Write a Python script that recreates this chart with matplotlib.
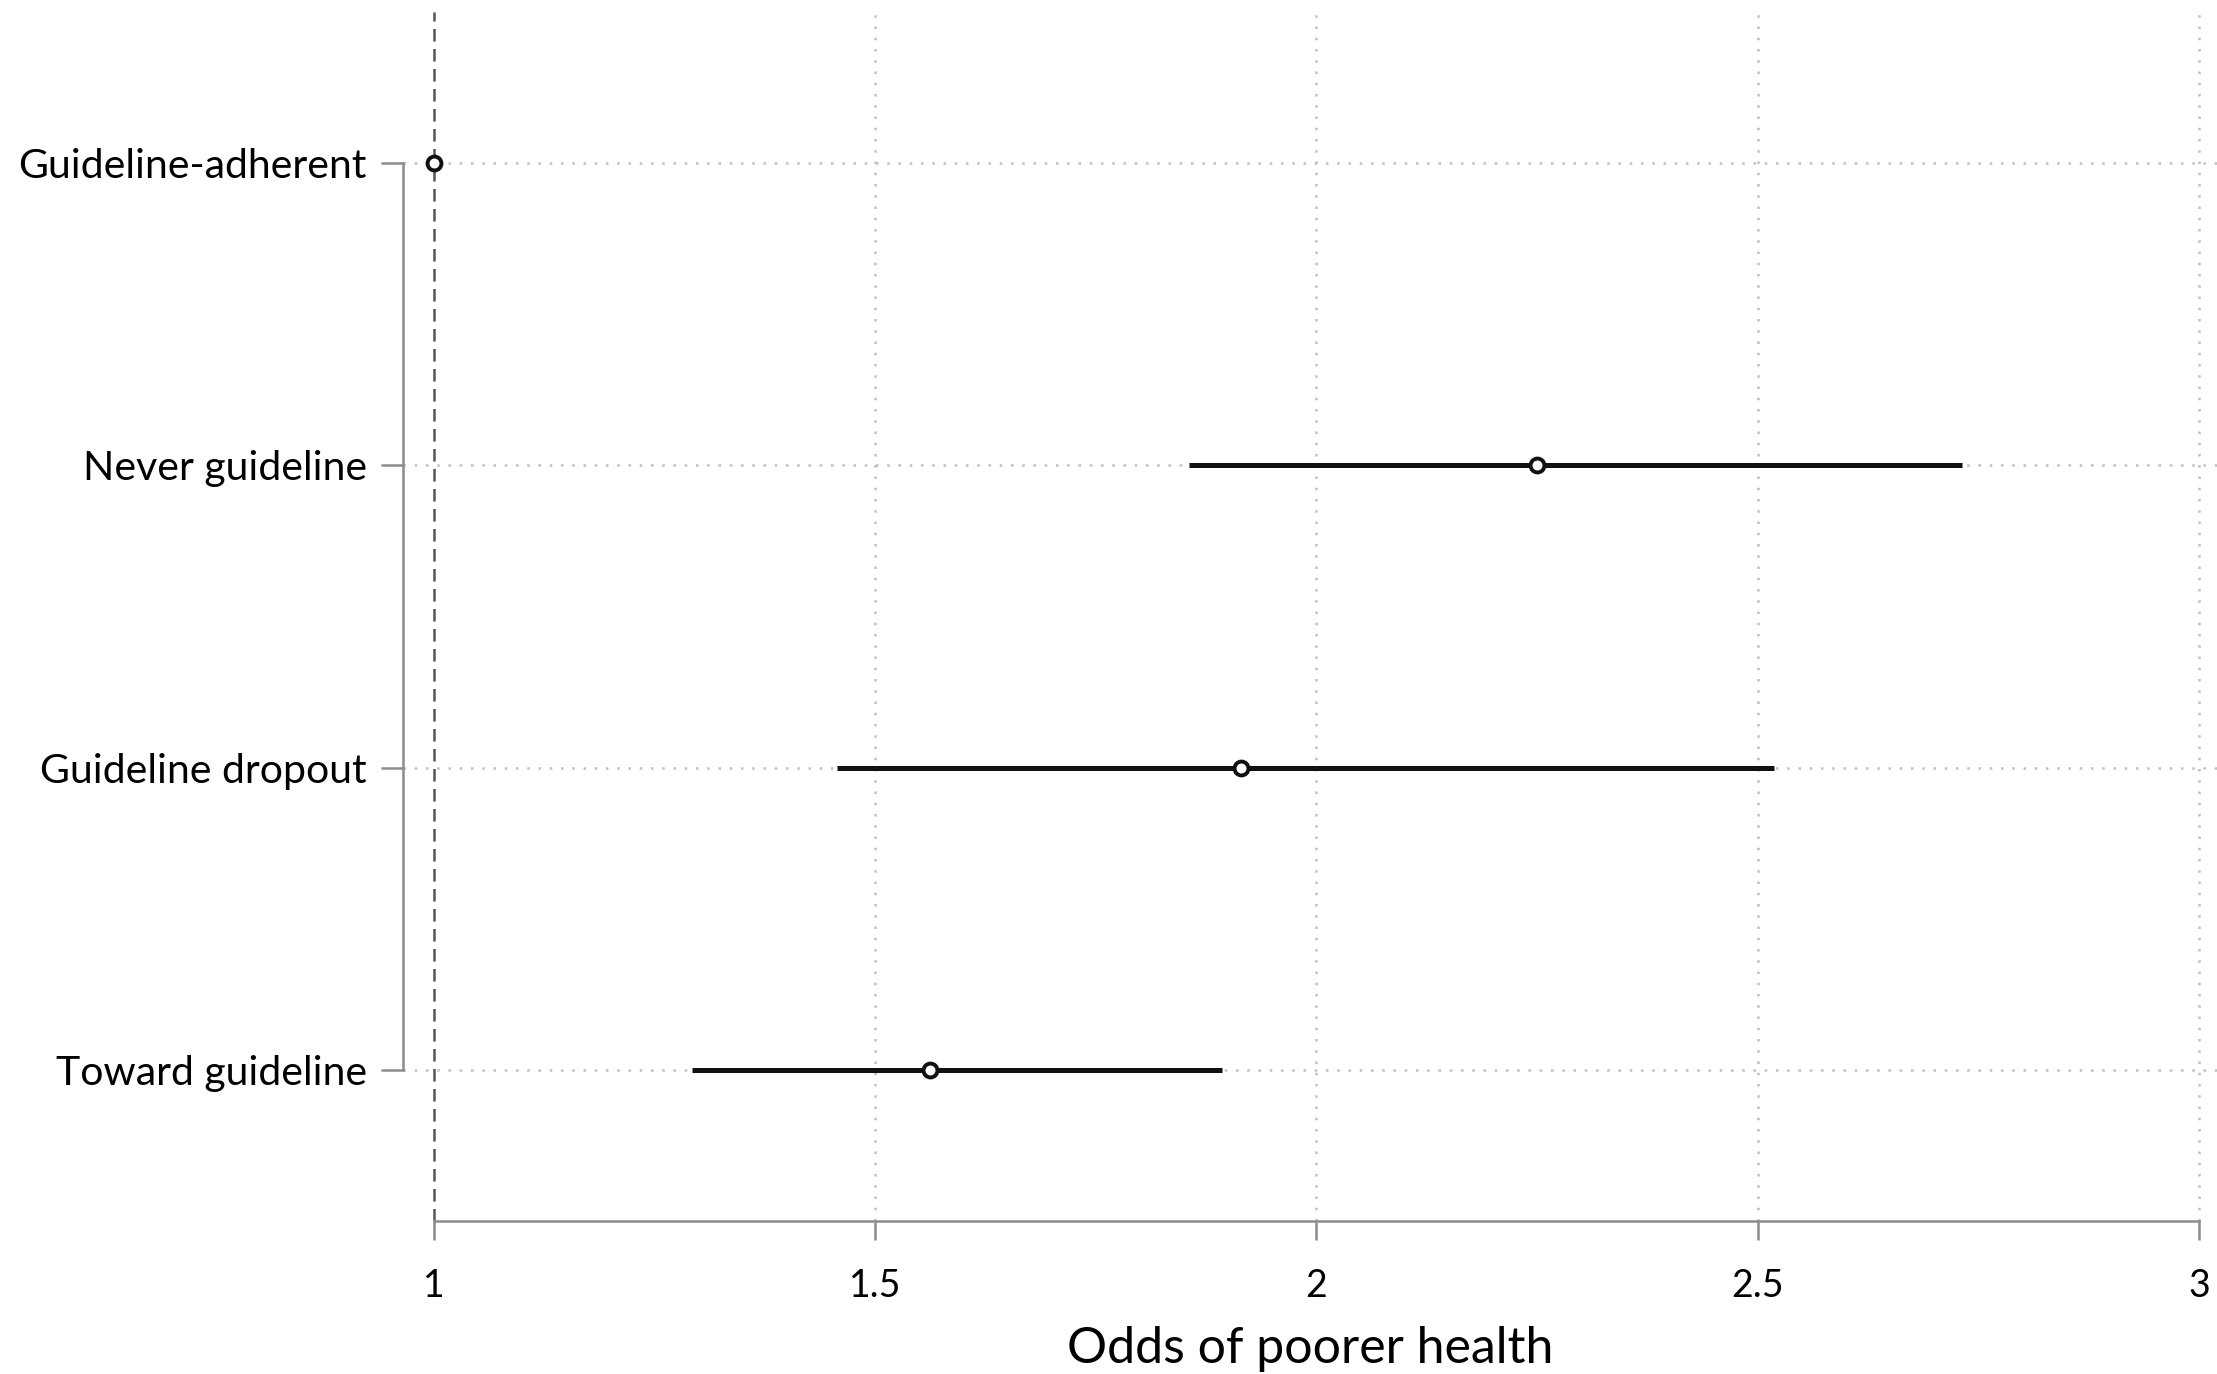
import matplotlib
matplotlib.use('Agg')
import matplotlib.pyplot as plt

GROUPS = ['Guideline-adherent', 'Never guideline', 'Guideline dropout', 'Toward guideline']
ODDS = [1.0, 2.250, 1.915, 1.562]
CI_LOW = [None, 1.856, 1.457, 1.292]
CI_HIGH = [None, 2.731, 2.519, 1.893]
XTICKS = [1, 1.5, 2, 2.5, 3]
XTICK_LABELS = ['1', '1.5', '2', '2.5', '3']
X_LABEL = 'Odds of poorer health'

plt.rcParams['font.family'] = ['Lato', 'DejaVu Sans']

fig = plt.figure(figsize=(22.17, 13.74), dpi=100)
ax = fig.add_axes([0.1818, 0.1114, 0.818, 0.880])

ypos = list(range(len(GROUPS), 0, -1))

# grid first so marks sit on top
for y in ypos:
    ax.axhline(y, color='#c0c0c0', lw=1.8, ls=(0, (1, 3.5)), zorder=0)
for x in XTICKS[1:]:
    ax.axvline(x, color='#c0c0c0', lw=1.8, ls=(0, (1, 3.5)), zorder=0)

ax.axvline(1, color='#555555', lw=1.8, ls=(0, (5, 3)), zorder=1)

for y, m, lo, hi in zip(ypos, ODDS, CI_LOW, CI_HIGH):
    if lo is not None:
        ax.plot([lo, hi], [y, y], color='#111111', lw=3.6, solid_capstyle='butt', zorder=2)
    ax.plot([m], [y], marker='o', ms=10, mfc='white', mec='#111111', mew=2.8, zorder=3)

ax.set_xlim(0.965, 3.02)
ax.set_ylim(0.5, 4.5)

ax.set_xticks(XTICKS)
ax.set_xticklabels(XTICK_LABELS)
ax.set_yticks(ypos)
ax.set_yticklabels(GROUPS)

for s in ['top', 'right']:
    ax.spines[s].set_visible(False)
ax.spines['left'].set_bounds(1, 4)
ax.spines['bottom'].set_bounds(1, 3)
for s in ['left', 'bottom']:
    ax.spines[s].set_color('#8c8c8c')
    ax.spines[s].set_linewidth(1.8)

ax.tick_params(axis='y', length=16, width=1.8, color='#8c8c8c', pad=10, labelsize=29.5)
ax.tick_params(axis='x', length=14, width=1.8, color='#8c8c8c', pad=20, labelsize=27)
ax.set_xlabel(X_LABEL, fontsize=36, labelpad=16)

fig.savefig('out.png', dpi=100, facecolor='white')
